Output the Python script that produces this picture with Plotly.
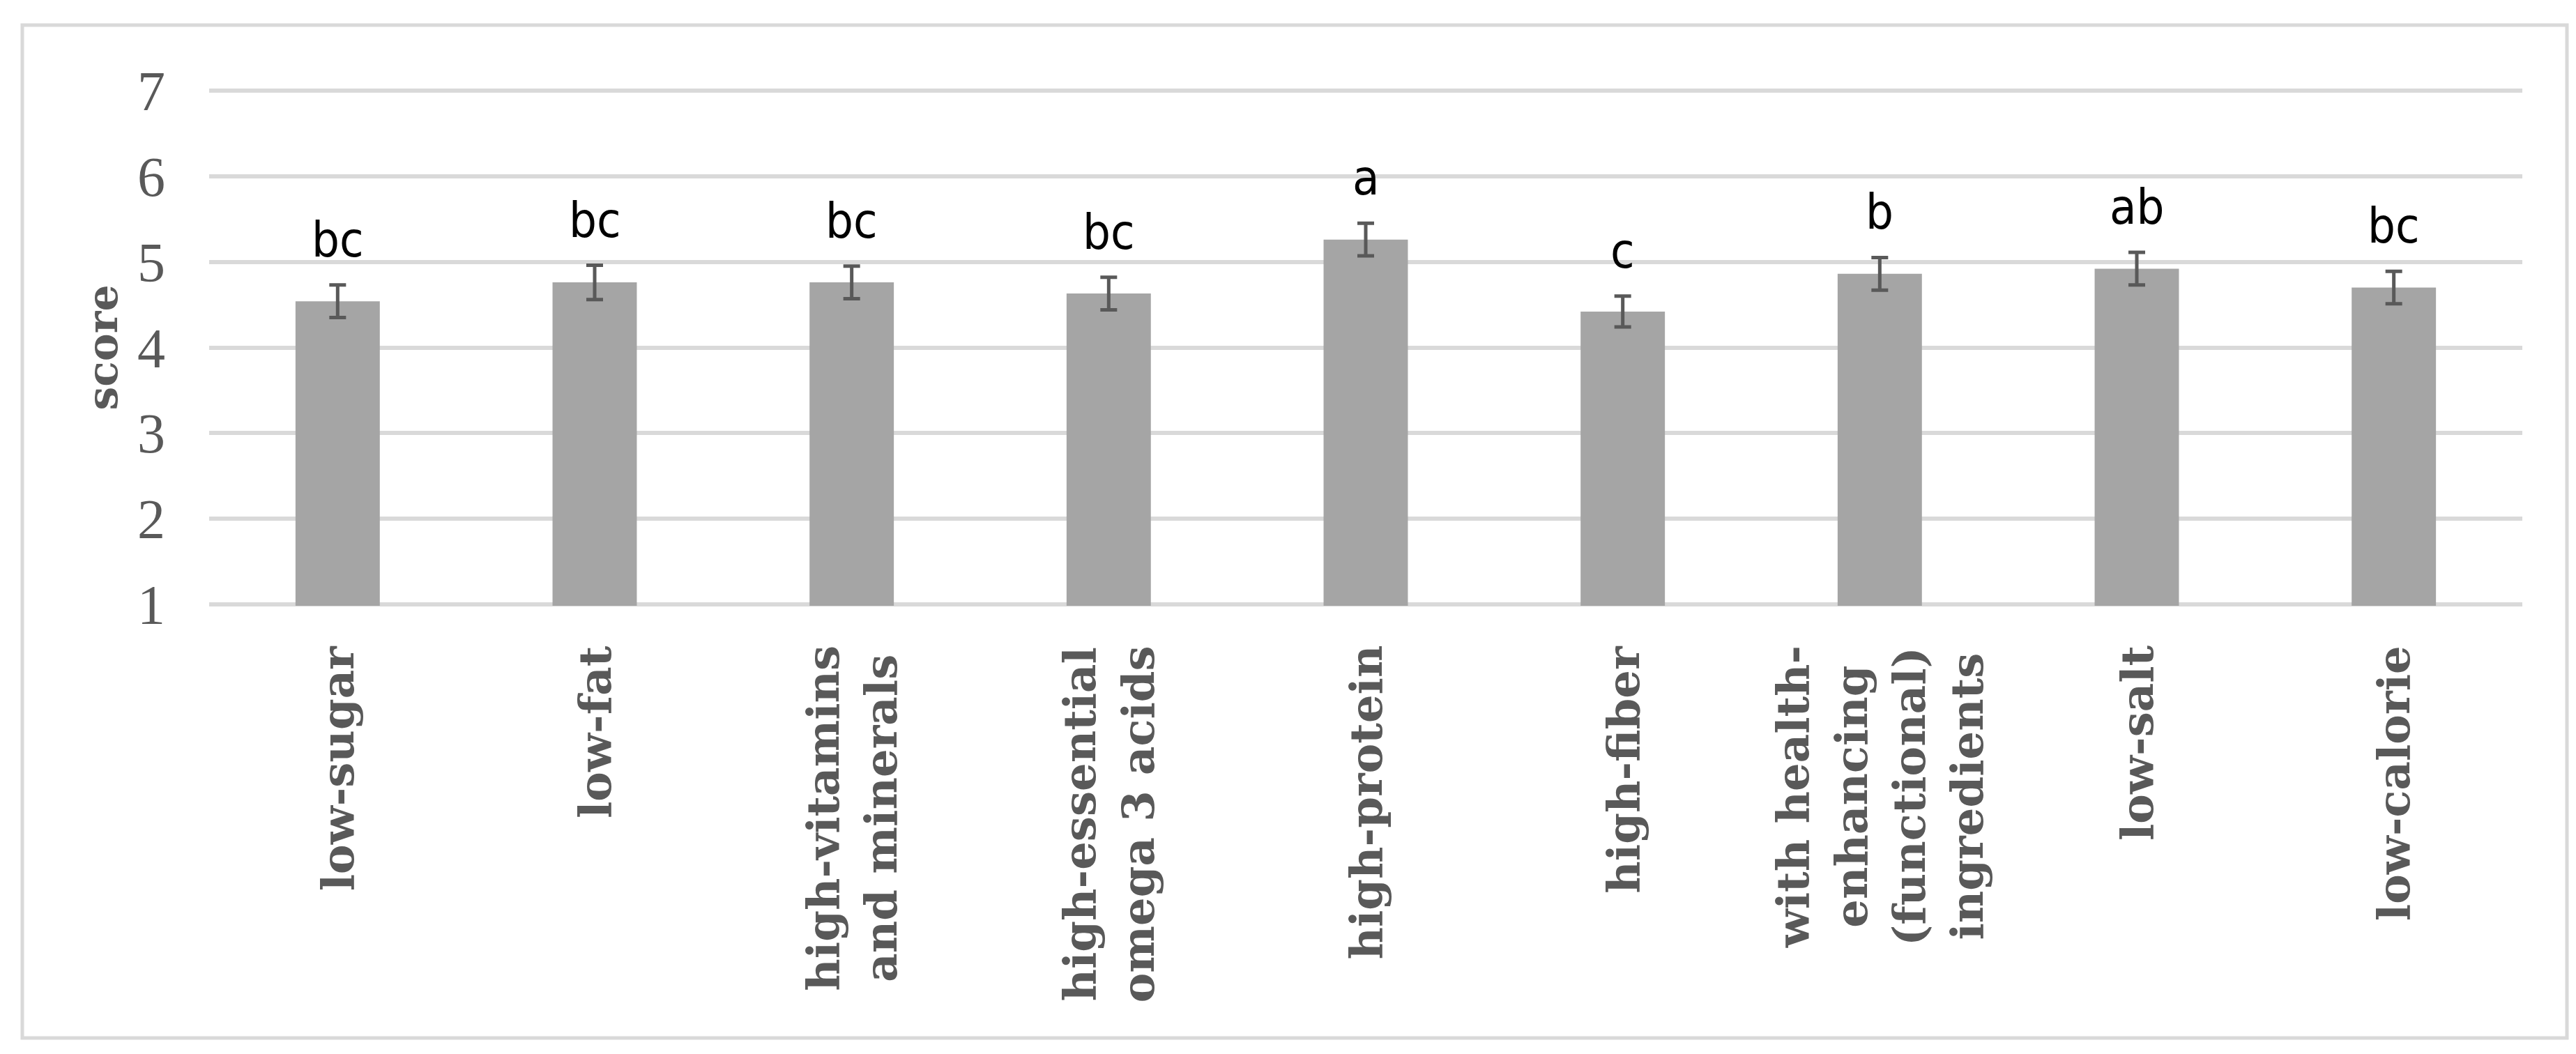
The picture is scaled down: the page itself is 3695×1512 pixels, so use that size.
import plotly.graph_objects as go

# ---- data ----
categories = [
    "low-sugar",
    "low-fat",
    "high-vitamins<br>and minerals",
    "high-essential<br>omega 3 acids",
    "high-protein",
    "high-fiber",
    "with health-<br>enhancing<br>(functional)<br>ingredients",
    "low-salt",
    "low-calorie",
]
scores = [4.54, 4.76, 4.76, 4.63, 5.26, 4.42, 4.86, 4.92, 4.70]
errors = [0.19, 0.20, 0.19, 0.19, 0.19, 0.18, 0.19, 0.19, 0.19]
group_letters = ["bc", "bc", "bc", "bc", "a", "c", "b", "ab", "bc"]
y_ticks = [1, 2, 3, 4, 5, 6, 7]

# ---- layout geometry (pixels) ----
W, H = 3695, 1512
Y_PAD = 0.015                      # tiny range padding so edge gridlines are drawn
ML, MR, MT, MB = 292, 85, 120, 651
PW, PH = W - ML - MR, H - MT - MB

GRID = "#d9d9d9"
TEXT_GREY = "#595959"
BAR = "#a5a5a5"

fig = go.Figure()
fig.add_trace(go.Bar(
    x=categories,
    y=scores,
    width=0.328,
    marker=dict(color=BAR, line=dict(width=0)),
    error_y=dict(type="data", array=errors, visible=True,
                 color=TEXT_GREY, thickness=5, width=12),
    hoverinfo="skip",
))

annotations = []
# significance letters above the error bars
for cat, s, e, lab in zip(categories, scores, errors, group_letters):
    annotations.append(dict(
        x=cat, y=s + e, xref="x", yref="y",
        text=lab, showarrow=False, xanchor="center", yanchor="bottom",
        yshift=22,
        font=dict(family="Liberation Sans Narrow, DejaVu Sans Condensed, Arial Narrow, Lato, sans-serif",
                  size=70, color="#000000"),
    ))
# rotated category labels below the axis
for cat in categories:
    annotations.append(dict(
        x=cat, y=0, xref="x", yref="paper",
        text=cat, showarrow=False, textangle=-90,
        xanchor="center", yanchor="top", align="center",
        yshift=-55,
        font=dict(family="DejaVu Serif", size=64, color=TEXT_GREY, weight="bold"),
    ))
# y axis title
annotations.append(dict(
    x=0, y=0.5, xref="paper", yref="paper",
    text="<b>score</b>", showarrow=False, textangle=-90,
    xanchor="center", yanchor="middle", xshift=-154,
    font=dict(family="DejaVu Serif", size=60, color=TEXT_GREY),
))

def px_to_paper_x(px):
    return (px - ML) / PW

def px_to_paper_y(py):
    return (H - MB - py) / PH

fig.update_layout(
    width=W, height=H,
    margin=dict(l=ML, r=MR, t=MT, b=MB, pad=0),
    paper_bgcolor="white",
    plot_bgcolor="white",
    showlegend=False,
    annotations=annotations,
    shapes=[dict(
        type="rect", xref="paper", yref="paper", layer="below",
        x0=px_to_paper_x(24), x1=px_to_paper_x(3674),
        y0=px_to_paper_y(1481), y1=px_to_paper_y(28),
        line=dict(color=GRID, width=5), fillcolor="rgba(0,0,0,0)",
    )],
    xaxis=dict(
        type="category",
        showticklabels=False,
        showgrid=False, zeroline=False, showline=False, ticks="",
    ),
    yaxis=dict(
        range=[y_ticks[0] - Y_PAD, y_ticks[-1] + Y_PAD],
        tickvals=y_ticks,
        ticktext=[str(v) for v in y_ticks],
        showgrid=True, gridcolor=GRID, gridwidth=6,
        zeroline=False, showline=False, ticks="",
        ticklabelstandoff=62,
        tickfont=dict(family="Liberation Serif, Times New Roman, serif", size=80, color=TEXT_GREY),
    ),
)

fig.write_html("out.html")
